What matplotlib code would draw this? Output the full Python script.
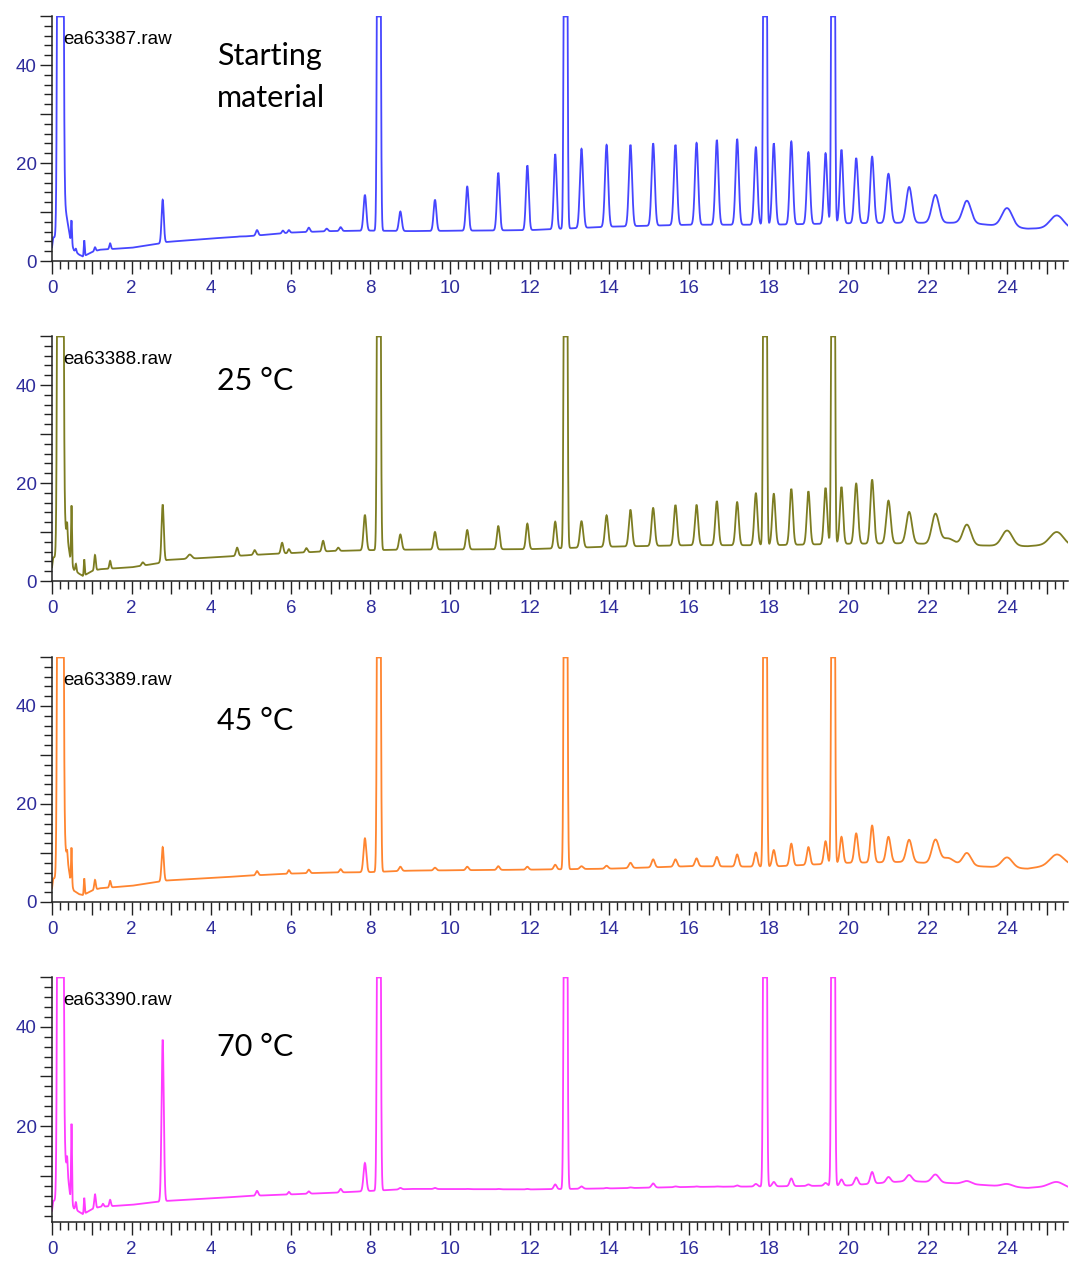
import matplotlib
matplotlib.use("Agg")
import matplotlib.pyplot as plt
from matplotlib.ticker import MultipleLocator, FuncFormatter
import numpy as np

# ----------------------------------------------------
# Data (time in min)
# ----------------------------------------------------
files = ["ea63387.raw", "ea63388.raw", "ea63389.raw", "ea63390.raw"]
conditions = ["Starting\nmaterial", "25 °C", "45 °C", "70 °C"]
colors = ["#4646ff", "#7d7d22", "#ff8530", "#ff3cff"]

# off-scale peaks, common to every run
big_rt = [8.21, 12.90, 17.91, 19.62]

# homologous series peaks, common retention times
series_rt = [7.86, 8.75, 9.62, 10.43, 11.21, 11.94, 12.64, 13.30, 13.93, 14.53,
             15.10, 15.66, 16.19, 16.70, 17.21, 17.68, 18.13, 18.57, 19.00, 19.43,
             19.83, 20.20, 20.60, 21.01, 21.53, 22.19, 22.98, 23.99, 25.24]
series_sigma = [0.035, 0.035, 0.035, 0.035, 0.035, 0.035, 0.035, 0.04, 0.04, 0.04,
                0.04, 0.04, 0.04, 0.04, 0.04, 0.04, 0.04, 0.04, 0.04, 0.04,
                0.04, 0.045, 0.045, 0.055, 0.07, 0.09, 0.105, 0.13, 0.165]
series_apex_sm = [13.5, 10.1, 12.5, 15.2, 18.0, 19.5, 21.8, 22.9, 23.7, 23.7,
                  24.0, 23.7, 24.1, 24.7, 24.9, 23.2, 24.0, 24.4, 22.2, 22.0,
                  22.7, 21.0, 21.3, 17.8, 15.1, 13.5, 12.3, 10.8, 9.3]
series_apex_25 = [13.5, 9.5, 10.0, 10.4, 11.2, 11.7, 12.1, 12.2, 13.4, 14.5,
                  14.9, 15.5, 15.5, 16.3, 16.1, 17.9, 17.8, 18.8, 18.3, 19.0,
                  19.2, 19.9, 20.7, 16.4, 14.1, 13.6, 11.5, 10.3, 10.0]
series_apex_45 = [13.0, 7.2, 7.0, 7.2, 7.3, 7.2, 7.6, 7.3, 7.4, 8.0,
                  8.7, 8.7, 8.9, 9.2, 9.7, 10.1, 10.6, 11.9, 11.2, 12.4,
                  13.3, 14.0, 15.6, 13.3, 12.7, 12.6, 10.0, 9.1, 9.7]
series_apex_70 = [12.6, 7.6, 7.6, 7.4, 7.4, 7.4, 8.3, 7.9, 7.6, 7.7,
                  8.5, 7.9, 7.9, 7.9, 8.1, 8.4, 8.8, 9.5, 8.3, 8.6,
                  9.3, 9.7, 10.8, 9.8, 10.2, 10.3, 9.0, 8.4, 8.8]

# minor peaks per run: (rt, apex, sigma)
minor_sm = [(0.49, 8.3, 0.012), (0.60, 2.5, 0.015), (0.81, 4.2, 0.012), (1.08, 2.8, 0.02),
            (1.46, 3.6, 0.02), (2.78, 12.5, 0.028), (4.70, 5.0, 0.04), (5.15, 6.3, 0.03),
            (5.80, 6.2, 0.025), (5.95, 6.3, 0.025), (6.45, 6.8, 0.03), (6.90, 6.6, 0.03),
            (7.25, 6.9, 0.03)]
minor_25 = [(0.38, 12.0, 0.012), (0.49, 15.4, 0.012), (0.60, 3.5, 0.015), (0.81, 4.4, 0.012),
            (1.08, 5.3, 0.02), (1.46, 4.1, 0.02), (2.28, 3.8, 0.03), (2.78, 15.6, 0.028),
            (3.46, 5.4, 0.05), (4.65, 6.8, 0.03), (5.09, 6.3, 0.03), (5.78, 7.8, 0.03),
            (5.95, 6.5, 0.025), (6.39, 6.7, 0.03), (6.81, 8.2, 0.03), (7.19, 6.8, 0.03),
            (22.50, 8.7, 0.15)]
minor_45 = [(0.38, 10.6, 0.012), (0.49, 11.1, 0.012), (0.81, 4.8, 0.012), (1.08, 4.5, 0.02),
            (1.46, 4.3, 0.02), (2.78, 11.2, 0.028), (5.15, 6.3, 0.03), (5.95, 6.5, 0.025),
            (6.45, 6.6, 0.03), (7.25, 6.7, 0.03), (22.50, 9.0, 0.15)]
minor_70 = [(0.38, 14.0, 0.012), (0.49, 20.5, 0.012), (0.60, 4.8, 0.015), (0.81, 5.6, 0.012),
            (1.08, 6.3, 0.02), (1.28, 4.4, 0.02), (1.46, 5.2, 0.02), (2.78, 37.4, 0.028),
            (5.15, 7.0, 0.03), (5.95, 6.8, 0.025), (6.45, 6.9, 0.03), (7.25, 7.4, 0.03)]

# baselines (time, signal)
base_t = [0, 0.03, 0.15, 0.30, 0.40, 0.47, 0.55, 0.68, 0.78, 1.0, 1.2, 2.0, 2.65, 2.9,
          4.0, 5.0, 6.0, 7.0, 8.0, 9.0, 12.0, 14.0, 16.0, 18.0, 20.0, 21.5, 23.0, 24.5, 25.0, 25.5]
base_sm = [2.8, 4.8, 4.8, 12.5, 7.5, 4.0, 2.2, 1.3, 0.9, 1.8, 2.3, 2.7, 3.5, 3.9,
           4.6, 5.1, 5.8, 6.1, 6.2, 6.1, 6.3, 7.0, 7.4, 7.4, 7.7, 7.8, 7.8, 6.6, 6.7, 6.6]
base_25 = [2.8, 4.8, 4.8, 12.5, 8.0, 4.0, 2.3, 1.5, 1.0, 2.0, 2.4, 2.8, 3.6, 4.3,
           4.8, 5.3, 5.7, 6.1, 6.3, 6.4, 6.5, 7.0, 7.3, 7.3, 7.6, 7.7, 7.3, 7.1, 7.4, 7.2]
base_45 = [2.8, 4.8, 4.8, 12.5, 8.0, 4.0, 2.3, 1.6, 1.4, 2.3, 2.8, 3.3, 4.1, 4.4,
           4.9, 5.4, 5.8, 6.0, 6.1, 6.4, 6.6, 6.8, 7.3, 7.2, 8.0, 8.2, 7.4, 6.8, 7.4, 7.6]
base_70 = [3.0, 5.0, 5.0, 15.0, 10.0, 5.0, 3.5, 2.8, 2.3, 3.3, 3.8, 4.2, 4.8, 5.0,
           5.5, 6.0, 6.3, 6.6, 7.0, 7.4, 7.3, 7.5, 7.8, 7.9, 8.1, 9.0, 8.4, 7.6, 7.9, 7.6]

runs = [
    (series_apex_sm, minor_sm, base_sm),
    (series_apex_25, minor_25, base_25),
    (series_apex_45, minor_45, base_45),
    (series_apex_70, minor_70, base_70),
]

t = np.arange(0, 25.52, 0.002)


def gauss(x, rt, h, s):
    return h * np.exp(-0.5 * ((x - rt) / s) ** 2)


def build_trace(apex, minor, base):
    baseline = np.interp(t, base_t, base)
    y = baseline.copy()
    # solvent front + off-scale peaks
    y += gauss(t, 0.21, 1000, 0.035)
    for rt in big_rt:
        y += gauss(t, rt, 300, 0.027)
    for rt, a, s in zip(series_rt, apex, series_sigma):
        h = max(a - np.interp(rt, base_t, base), 0)
        y += gauss(t, rt, h, s)
    for rt, a, s in minor:
        h = max(a - np.interp(rt, base_t, base), 0)
        y += gauss(t, rt, h, s)
    return np.minimum(y, 49.9)


# ----------------------------------------------------
# Figure
# ----------------------------------------------------
W, H = 1070, 1263
fig = plt.figure(figsize=(W / 100, H / 100), dpi=100)

boxes = [(16, 261), (336, 581), (657, 902), (977, 1222)]
ylims = [(0, 50), (0, 50), (0, 50), (0.75, 50)]
cond_y = [37.5, 40.8, 36.9, 35.9]
tick_col = "#2e2c9c"

for i, (top, bot) in enumerate(boxes):
    ax = fig.add_axes([52 / W, 1 - bot / H, 1016 / W, (bot - top) / H])
    apex, minor, base = runs[i]
    y = build_trace(apex, minor, base)
    ax.plot(t, y, color=colors[i], lw=1.3, solid_joinstyle="miter")

    ax.set_xlim(0, 25.52)
    ax.set_ylim(*ylims[i])
    for s in ["top", "right"]:
        ax.spines[s].set_visible(False)
    for s in ["left", "bottom"]:
        ax.spines[s].set_linewidth(1.1)
        ax.spines[s].set_color("#222222")

    ax.xaxis.set_major_locator(MultipleLocator(1))
    ax.xaxis.set_minor_locator(MultipleLocator(0.2))
    ax.xaxis.set_major_formatter(FuncFormatter(
        lambda v, p: f"{v:.0f}" if int(round(v)) % 2 == 0 else ""))
    ax.yaxis.set_major_locator(MultipleLocator(10))
    ax.yaxis.set_minor_locator(MultipleLocator(2))
    ax.yaxis.set_major_formatter(FuncFormatter(
        lambda v, p: f"{v:.0f}" if int(round(v)) % 20 == 0 and v < 45 else ""))

    ax.tick_params(axis="both", which="major", length=9, width=1.0, color="#222222",
                   labelsize=13.5, labelcolor=tick_col)
    ax.tick_params(axis="both", which="minor", length=5.5, width=1.0, color="#222222")
    ax.tick_params(axis="x", which="major", pad=5)
    ax.tick_params(axis="y", which="major", pad=2)
    for lab in ax.get_xticklabels() + ax.get_yticklabels():
        lab.set_fontfamily("Liberation Sans")

    ax.text(0.28, 45.2, files[i], fontsize=13.5, family="Liberation Sans",
            color="black", va="center", ha="left")
    ax.text(4.15, cond_y[i], conditions[i], fontsize=22, family="Lato",
            color="black", va="center", ha="left", linespacing=1.62)

fig.savefig("out.png", dpi=100)
